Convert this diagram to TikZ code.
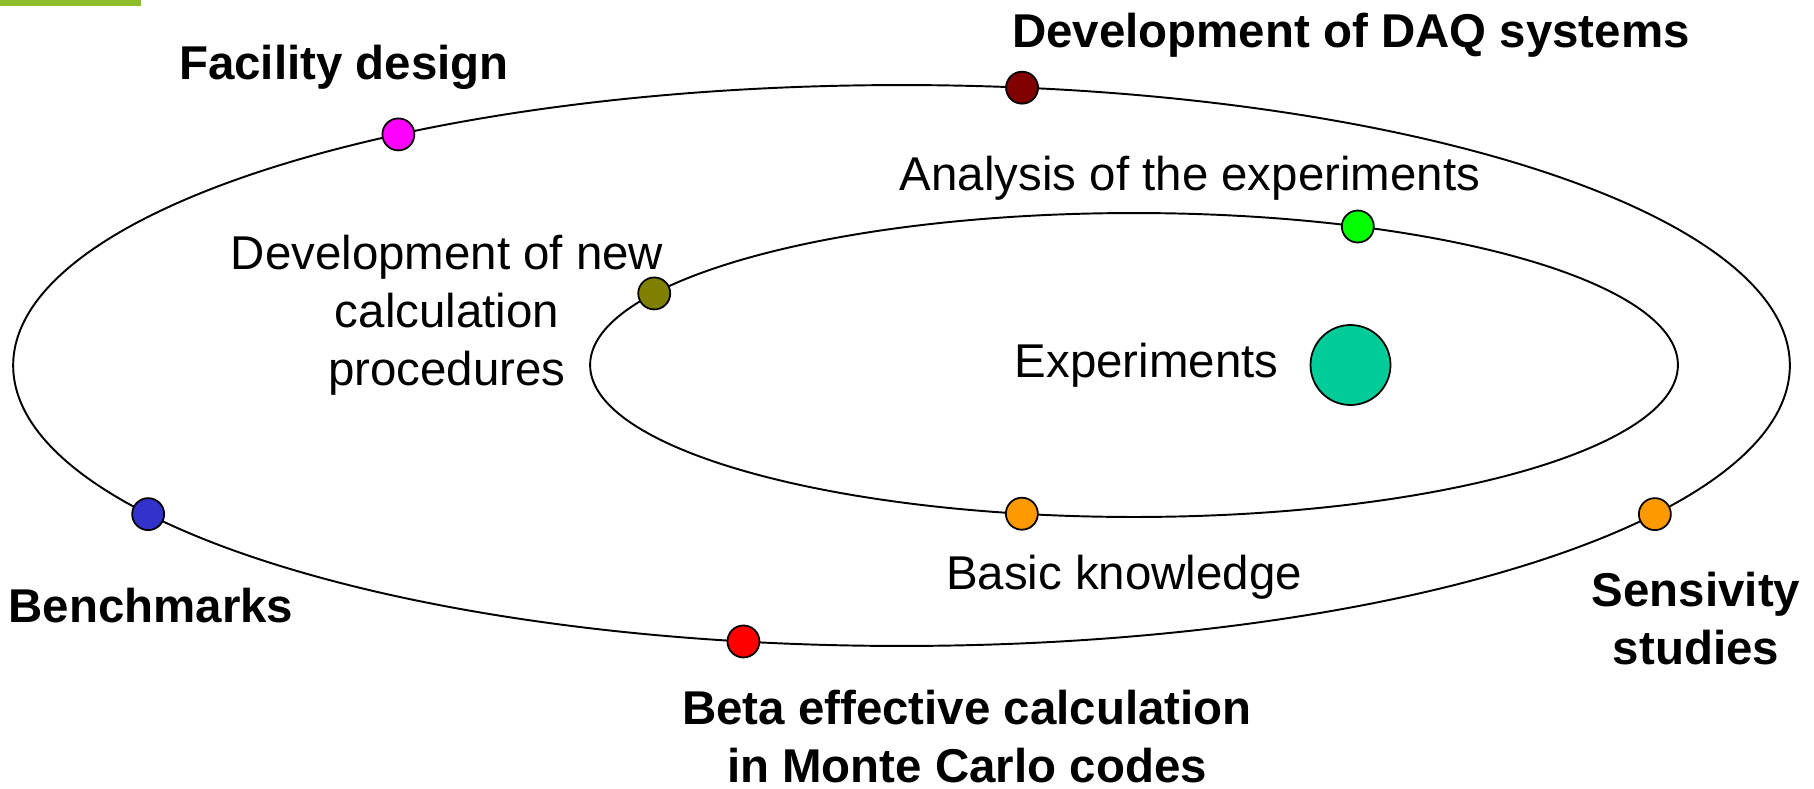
\documentclass[tikz,border=0pt]{standalone}
\usepackage{fontspec}
\setmainfont{Liberation Sans}
\usetikzlibrary{calc}

\definecolor{bargreen}{RGB}{141,189,38}
\definecolor{dotmagenta}{RGB}{255,0,255}
\definecolor{dotmaroon}{RGB}{128,0,0}
\definecolor{dotgreen}{RGB}{0,255,0}
\definecolor{dotolive}{RGB}{128,128,0}
\definecolor{dotorange}{RGB}{255,153,0}
\definecolor{dotblue}{RGB}{51,51,204}
\definecolor{dotred}{RGB}{255,0,0}
\definecolor{coreteal}{RGB}{0,204,153}

\begin{document}
\begin{tikzpicture}[
  x=0.02cm, y=-0.02cm,
  orbit/.style={draw=black, line width=1.1pt},
  dot/.style={circle, draw=black, line width=1pt, inner sep=0pt, minimum size=0.64cm},
  core/.style={circle, draw=black, line width=1pt, inner sep=0pt, minimum size=1.6cm, fill=coreteal},
  lbl/.style={inner sep=0pt, anchor=base, align=center,
              font=\fontsize{27}{33}\selectfont},
  boldlbl/.style={lbl, font=\fontsize{27}{33}\selectfont\bfseries}
]
% page frame
\useasboundingbox (0,0) rectangle (1814,788);

% accent bar in the top-left corner
\fill[bargreen] (0,0) rectangle (141,6);

% the two orbits
\coordinate (oc) at (901.5,365.5);
\coordinate (ic) at (1134,365);
\draw[orbit] (oc) ellipse [x radius=17.77cm, y radius=5.61cm];
\draw[orbit] (ic) ellipse [x radius=10.88cm, y radius=3.04cm];

% points on the outer orbit
\node[dot, fill=dotmaroon]  (daq)      at ($(oc)+(82.2:17.77cm and 5.61cm)$) {};
\node[dot, fill=dotmagenta] (facility) at ($(oc)+(124.5:17.77cm and 5.61cm)$) {};
\node[dot, fill=dotblue]    (bench)    at ($(oc)+(212:17.77cm and 5.61cm)$) {};
\node[dot, fill=dotred]     (beta)     at ($(oc)+(259.75:17.77cm and 5.61cm)$) {};
\node[dot, fill=dotorange]  (sens)     at ($(oc)+(-32:17.77cm and 5.61cm)$) {};

% points on the inner orbit
\node[dot, fill=dotgreen]  (analysis) at ($(ic)+(65.7:10.88cm and 3.04cm)$) {};
\node[dot, fill=dotolive]  (newcalc)  at ($(ic)+(151.9:10.88cm and 3.04cm)$) {};
\node[dot, fill=dotorange] (basic)    at ($(ic)+(258.1:10.88cm and 3.04cm)$) {};

% centre
\node[core] (exp) at (1350.5,365) {};

% labels (multi-line labels are placed by the baseline of their last line)
\node[boldlbl] (tfacility) at (344,79)   {Facility design};
\node[boldlbl] (tdaq)      at (1351,47)  {Development of DAQ systems};
\node[lbl]     (tanalysis) at (1190,190) {Analysis of the experiments};
\node[lbl]     (tnewcalc)  at (447,385)  {Development of new\\calculation\\procedures};
\node[lbl]     (texp)      at (1146.5,377) {Experiments};
\node[lbl]     (tbasic)    at (1124,589) {Basic knowledge};
\node[boldlbl] (tbench)    at (151,622)  {Benchmarks};
\node[boldlbl] (tsens)     at (1696,664) {Sensivity\\studies};
\node[boldlbl] (tbeta)     at (967,782)  {Beta effective calculation\\in Monte Carlo codes};
\end{tikzpicture}
\end{document}
